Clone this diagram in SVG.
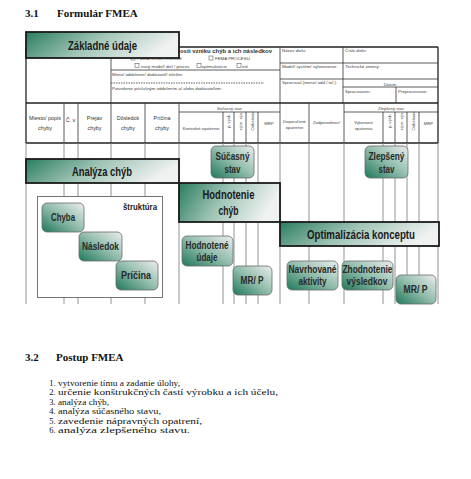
<svg xmlns="http://www.w3.org/2000/svg" width="471" height="479" viewBox="0 0 471 479">
<defs>
<linearGradient id="gBig" x1="0" y1="0" x2="1" y2="0.25">
<stop offset="0" stop-color="#2a7d60"/>
<stop offset="0.5" stop-color="#9fc4b5"/>
<stop offset="1" stop-color="#f0f2f1"/>
</linearGradient>
<linearGradient id="gSmall" x1="0" y1="1" x2="1" y2="0">
<stop offset="0" stop-color="#1f785a"/>
<stop offset="0.5" stop-color="#90bcab"/>
<stop offset="1" stop-color="#eceeed"/>
</linearGradient>
<style>
.h{font-family:"Liberation Serif",serif;font-weight:bold;font-size:11px;fill:#111}
.li{font-family:"Liberation Serif",serif;font-size:8.5px;fill:#111}
.ln1{text-anchor:end}
.f{font-family:"Liberation Sans Narrow","Liberation Sans",sans-serif;font-size:4.4px;fill:#444}
.fc{font-family:"Liberation Sans Narrow","Liberation Sans",sans-serif;font-size:5.4px;fill:#333;text-anchor:middle}
.fs{font-family:"Liberation Sans Narrow","Liberation Sans",sans-serif;font-size:4.2px;fill:#444;text-anchor:middle}
.ln{stroke:#333;stroke-width:0.8;fill:none}
.lb{stroke:#222;stroke-width:1.3;fill:none}
.lv{stroke:#777;stroke-width:0.8;fill:none}
.cb{fill:#fff;stroke:#444;stroke-width:0.5}
.big{fill:url(#gBig);stroke:#1a1a1a;stroke-width:1.8}
.sm{fill:url(#gSmall);stroke:#6a6a6a;stroke-width:0.8}
.bt{font-family:"Liberation Sans Narrow","Liberation Sans",sans-serif;font-weight:bold;font-size:12px;fill:#1a1a1a;text-anchor:middle}
.st{font-family:"Liberation Sans Narrow","Liberation Sans",sans-serif;font-weight:bold;font-size:10px;fill:#2a2a2a;text-anchor:middle}
</style>
</defs>
<rect width="471" height="479" fill="#fff"/>

<text class="h" x="25" y="17">3.1</text>
<text class="h" x="57" y="17">Formulár FMEA</text>

<g id="table">
<line class="lb" x1="26" y1="47" x2="438" y2="47"/>
<line class="lb" x1="438" y1="47" x2="438" y2="143"/>
<line class="lb" x1="26" y1="47" x2="26" y2="143"/>
<line class="ln" x1="111" y1="47" x2="111" y2="143"/>
<line class="ln" x1="280" y1="47" x2="280" y2="143"/>
<line class="ln" x1="343" y1="47" x2="343" y2="103"/>
<line class="ln" x1="111" y1="70" x2="280" y2="70"/>
<line class="ln" x1="111" y1="83" x2="264" y2="83" stroke-dasharray="1.5,1"/>
<line class="ln" x1="280" y1="63" x2="438" y2="63"/>
<line class="ln" x1="280" y1="79" x2="438" y2="79"/>
<line class="ln" x1="343" y1="87" x2="438" y2="87"/>
<line class="ln" x1="396" y1="87" x2="396" y2="103"/>
<line class="lb" x1="26" y1="103" x2="438" y2="103"/>
<line class="ln" x1="179" y1="112" x2="280" y2="112"/>
<line class="ln" x1="344" y1="112" x2="438" y2="112"/>
<line class="lb" x1="26" y1="143" x2="438" y2="143"/>
<line class="ln" x1="64" y1="103" x2="64" y2="143"/>
<line class="ln" x1="78" y1="103" x2="78" y2="143"/>
<line class="ln" x1="145" y1="103" x2="145" y2="143"/>
<line class="ln" x1="179" y1="103" x2="179" y2="143"/>
<line class="ln" x1="309" y1="103" x2="309" y2="143"/>
<line class="ln" x1="344" y1="103" x2="344" y2="143"/>
<line class="ln" x1="223" y1="112" x2="223" y2="143"/>
<line class="ln" x1="234" y1="112" x2="234" y2="143"/>
<line class="ln" x1="246" y1="112" x2="246" y2="143"/>
<line class="ln" x1="258" y1="112" x2="258" y2="143"/>
<line class="ln" x1="383" y1="112" x2="383" y2="143"/>
<line class="ln" x1="395" y1="112" x2="395" y2="143"/>
<line class="ln" x1="407" y1="112" x2="407" y2="143"/>
<line class="ln" x1="419" y1="112" x2="419" y2="143"/>
<path class="lv" d="M26 143V304M64 143V304M78 143V304M111 143V304M145 143V304M179 143V304M223 143V304M234 143V304M246 143V304M258 143V304M280 143V304M309 143V304M344 143V304M383 143V304M395 143V304M407 143V304M419 143V304M438 143V304"/>

<text x="180" y="53" textLength="92" lengthAdjust="spacingAndGlyphs" style="font-family:'Liberation Sans Narrow','Liberation Sans',sans-serif;font-weight:bold;font-size:6px;fill:#333">osti vzniku chýb a ich následkov</text>
<rect class="cb" x="131" y="56" width="4" height="4"/>
<text class="f" x="137" y="60">FMEA KONŠTRUKCIE</text>
<rect class="cb" x="209" y="56" width="4" height="4"/>
<text class="f" x="215" y="60">FEMA PROCESU</text>
<rect class="cb" x="135" y="63.5" width="4" height="4"/>
<text class="f" x="141" y="67.5">nový model/ diel / proces</text>
<rect class="cb" x="197" y="63.5" width="4" height="4"/>
<text class="f" x="201.5" y="67.5">optimalizácie</text>
<rect class="cb" x="237" y="63.5" width="4" height="4"/>
<text class="f" x="242" y="67.5">iné</text>
<text class="f" x="112" y="76">Meno/ oddelenie/ dodávateľ/ telefón:</text>
<text class="f" x="112" y="89.5">Potvrdenie príslušným oddelením a/ alebo dodávateľom:</text>
<text class="f" x="282" y="52">Názov dielu:</text>
<text class="f" x="345" y="52">Číslo dielu:</text>
<text class="f" x="282" y="68">Model/ systém/ vyhotovenie:</text>
<text class="f" x="345" y="68">Technické zmeny:</text>
<text class="f" x="282" y="84">Spracoval (meno/ odd./ tel.):</text>
<text class="fs" x="390" y="85.5">Dátum</text>
<text class="f" x="345" y="93">Spracovanie:</text>
<text class="f" x="398" y="93">Prepracovanie:</text>

<text class="fc" x="45" y="120">Miesto/ popis</text>
<text class="fc" x="45" y="130">chyby</text>
<text class="fc" x="71" y="122">Č. v.</text>
<text class="fc" x="94.5" y="120">Prejav</text>
<text class="fc" x="94.5" y="130">chyby</text>
<text class="fc" x="128" y="120">Dôsledok</text>
<text class="fc" x="128" y="130">chyby</text>
<text class="fc" x="162" y="120">Príčina</text>
<text class="fc" x="162" y="130">chyby</text>
<text class="fs" x="229.5" y="110">Súčasný stav</text>
<text class="fs" x="201" y="129.5">Kontrolné opatrenie</text>
<text class="fs" transform="translate(230,121) rotate(-90)">p. výsk.</text>
<text class="fs" transform="translate(241.5,121) rotate(-90)">význ. výs.</text>
<text class="fs" transform="translate(253.5,121) rotate(-90)">Odhalenie</text>
<text class="fs" x="269" y="125">MRP</text>
<text class="fs" x="294.5" y="122.5">Doporučené</text>
<text class="fs" x="294.5" y="128.5">opatrenie</text>
<text class="fs" x="326.5" y="124">Zodpovednosť</text>
<text class="fs" x="391" y="110">Zlepšený stav</text>
<text class="fs" x="363.5" y="124">Vykonané</text>
<text class="fs" x="363.5" y="130">opatrenia</text>
<text class="fs" transform="translate(390.5,121) rotate(-90)">p. výsk.</text>
<text class="fs" transform="translate(402.5,121) rotate(-90)">význ. výs.</text>
<text class="fs" transform="translate(414.5,121) rotate(-90)">Odhalenie</text>
<text class="fs" x="428.5" y="125">MRP</text>
</g>

<g id="struktura">
<rect x="37.5" y="196.5" width="125" height="101" fill="#fff" stroke="#666" stroke-width="0.9"/>
<text x="157" y="210" textLength="34" lengthAdjust="spacingAndGlyphs" style="font-family:'Liberation Sans Narrow','Liberation Sans',sans-serif;font-weight:bold;font-size:9px;fill:#222;text-anchor:end">štruktúra</text>
</g>

<g id="zakladne-udaje">
<rect class="big" x="26" y="32" width="153" height="26"/>
<text class="bt" x="102.5" y="49.5" textLength="69" lengthAdjust="spacingAndGlyphs">Základné údaje</text>
</g>
<g id="analyza-chyb">
<rect class="big" x="26" y="159" width="153" height="24"/>
<text class="bt" x="102" y="175.5" textLength="60" lengthAdjust="spacingAndGlyphs">Analýza chýb</text>
</g>
<g id="hodnotenie-chyb">
<rect class="big" x="179" y="183" width="101" height="39"/>
<text class="bt" x="228.5" y="199" textLength="52" lengthAdjust="spacingAndGlyphs">Hodnotenie</text>
<text class="bt" x="228.5" y="215" textLength="20" lengthAdjust="spacingAndGlyphs">chýb</text>
</g>
<g id="optimalizacia">
<rect class="big" x="280" y="222" width="159" height="24"/>
<text class="bt" x="361" y="238.5" textLength="108" lengthAdjust="spacingAndGlyphs">Optimalizácia konceptu</text>
</g>

<g id="sucasny-stav">
<rect class="sm" x="211" y="146" width="43" height="32" rx="5"/>
<text class="st" x="232.5" y="160" textLength="34" lengthAdjust="spacingAndGlyphs">Súčasný</text>
<text class="st" x="232.5" y="173" textLength="16" lengthAdjust="spacingAndGlyphs">stav</text>
</g>
<g id="zlepseny-stav">
<rect class="sm" x="365" y="146" width="43" height="32" rx="5"/>
<text class="st" x="386.5" y="160" textLength="36" lengthAdjust="spacingAndGlyphs">Zlepšený</text>
<text class="st" x="386.5" y="173" textLength="16" lengthAdjust="spacingAndGlyphs">stav</text>
</g>
<g id="chyba">
<rect class="sm" x="42" y="203" width="42" height="29" rx="5"/>
<text class="st" x="63" y="221" textLength="24" lengthAdjust="spacingAndGlyphs">Chyba</text>
</g>
<g id="nasledok">
<rect class="sm" x="79" y="232" width="43" height="29" rx="5"/>
<text class="st" x="100.5" y="250" textLength="37" lengthAdjust="spacingAndGlyphs">Následok</text>
</g>
<g id="pricina">
<rect class="sm" x="116" y="261" width="42" height="29" rx="5"/>
<text class="st" x="136" y="279" textLength="30" lengthAdjust="spacingAndGlyphs">Príčina</text>
</g>
<g id="hodnotene-udaje">
<rect class="sm" x="182" y="236" width="51" height="30" rx="5"/>
<text class="st" x="207" y="249" textLength="43" lengthAdjust="spacingAndGlyphs">Hodnotené</text>
<text class="st" x="207" y="261" textLength="21" lengthAdjust="spacingAndGlyphs">údaje</text>
</g>
<g id="mrp-1">
<rect class="sm" x="233" y="266" width="39" height="29" rx="5"/>
<text class="st" x="252" y="284" textLength="23" lengthAdjust="spacingAndGlyphs">MR/ P</text>
</g>
<g id="navrhovane-aktivity">
<rect class="sm" x="287" y="261" width="51" height="29" rx="5"/>
<text class="st" x="312.5" y="273" textLength="48" lengthAdjust="spacingAndGlyphs">Navrhované</text>
<text class="st" x="312.5" y="285" textLength="28" lengthAdjust="spacingAndGlyphs">aktivity</text>
</g>
<g id="zhodnotenie-vysledkov">
<rect class="sm" x="342" y="261" width="51" height="29" rx="5"/>
<text class="st" x="367.5" y="273" textLength="50" lengthAdjust="spacingAndGlyphs">Zhodnotenie</text>
<text class="st" x="367" y="285" textLength="41" lengthAdjust="spacingAndGlyphs">výsledkov</text>
</g>
<g id="mrp-2">
<rect class="sm" x="396" y="275" width="40" height="29" rx="5"/>
<text class="st" x="415.5" y="293" textLength="24" lengthAdjust="spacingAndGlyphs">MR/ P</text>
</g>

<text class="h" x="25" y="361">3.2</text>
<text class="h" x="56" y="361">Postup FMEA</text>

<g id="list">
<text class="li ln1" x="55.5" y="385.5">1.</text><text class="li" x="58" y="385.5" textLength="122" lengthAdjust="spacingAndGlyphs">vytvorenie tímu a zadanie úlohy,</text>
<text class="li ln1" x="55.5" y="395">2.</text><text class="li" x="58" y="395" textLength="220" lengthAdjust="spacingAndGlyphs">určenie konštrukčných častí výrobku a ich účelu,</text>
<text class="li ln1" x="55.5" y="404.5">3.</text><text class="li" x="58" y="404.5" textLength="51" lengthAdjust="spacingAndGlyphs">analýza chýb,</text>
<text class="li ln1" x="55.5" y="414">4.</text><text class="li" x="58" y="414" textLength="103" lengthAdjust="spacingAndGlyphs">analýza súčasného stavu,</text>
<text class="li ln1" x="55.5" y="423.5">5.</text><text class="li" x="58" y="423.5" textLength="144" lengthAdjust="spacingAndGlyphs">zavedenie nápravných opatrení,</text>
<text class="li ln1" x="55.5" y="433">6.</text><text class="li" x="58" y="433" textLength="132" lengthAdjust="spacingAndGlyphs">analýza zlepšeného stavu.</text>
</g>
</svg>
